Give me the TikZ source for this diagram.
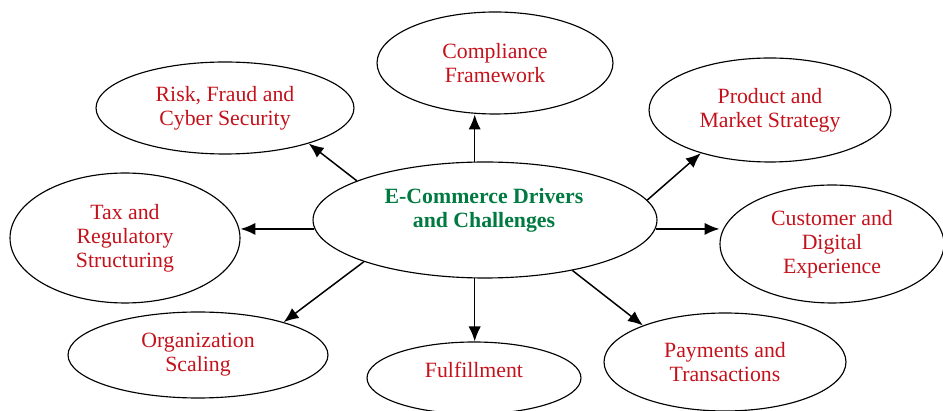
\documentclass[tikz,border=0pt]{standalone}
\usepackage{fontspec}
\setmainfont{Liberation Serif}
\usetikzlibrary{arrows.meta, shapes.geometric}
\definecolor{topicred}{RGB}{196,18,28}
\definecolor{hubgreen}{RGB}{0,122,64}
\tikzset{>={Latex[length=8.5pt,width=7pt]},
  bubble/.style={ellipse, draw, line width=0.65pt, inner sep=0pt},
  topic/.style={bubble, align=center, text=topicred, font=\fontsize{12.4}{13.6}\selectfont},
  link/.style={->, line width=0.85pt}}

\begin{document}
\begin{tikzpicture}[x=0.02cm, y=-0.02cm]
    \useasboundingbox (0,0) rectangle (943,411);
    \clip (0,0) rectangle (943,411);
    \node [bubble, minimum width=6.88cm, minimum height=2.32cm] (hub) at (485,220) {};
    \node [align=center, text=hubgreen, font=\bfseries\fontsize{12.4}{13.8}\selectfont] (hubtext) at (484,210) {E-Commerce Drivers\\and Challenges};
    \node [topic, minimum width=4.72cm, minimum height=2.04cm] (compliance) at (495,63) {Compliance\\Framework};
    \node [topic, minimum width=5.16cm, minimum height=1.84cm] (risk) at (225,108) {Risk, Fraud and\\Cyber Security};
    \node [topic, minimum width=4.6cm, minimum height=2.6cm] (tax) at (125,238) {Tax and\\Regulatory\\Structuring};
    \node [topic, minimum width=5.2cm, minimum height=1.72cm] (org) at (198,355) {Organization\\Scaling};
    \node [topic, minimum width=4.28cm, minimum height=1.44cm, text depth=9pt] (fulfil) at (474,378) {Fulfillment};
    \node [topic, minimum width=4.84cm, minimum height=2.08cm] (product) at (770,110) {Product and\\Market Strategy};
    \node [topic, minimum width=4.48cm, minimum height=2.36cm] (customer) at (832,244) {Customer and\\Digital\\Experience};
    \node [topic, minimum width=4.84cm, minimum height=1.96cm] (payments) at (725,362) {Payments and\\Transactions};
    \draw [link] (hub.100) -- (hub.100 |- compliance.south);
    \draw [link] (hub.260) -- (hub.260 |- fulfil.north);
    \draw [link] (hub.183) -- (hub.183 -| tax.east);
    \draw [link] (hub.357) -- (hub.357 -| customer.west);
    \draw [link] (hub.163) -- (risk.337);
    \draw [link] (hub.199) -- (org.21);
    \draw [link] (hub.7) -- (product.212);
    \draw [link] (hub.330) -- (payments.156);
\end{tikzpicture}
\end{document}
